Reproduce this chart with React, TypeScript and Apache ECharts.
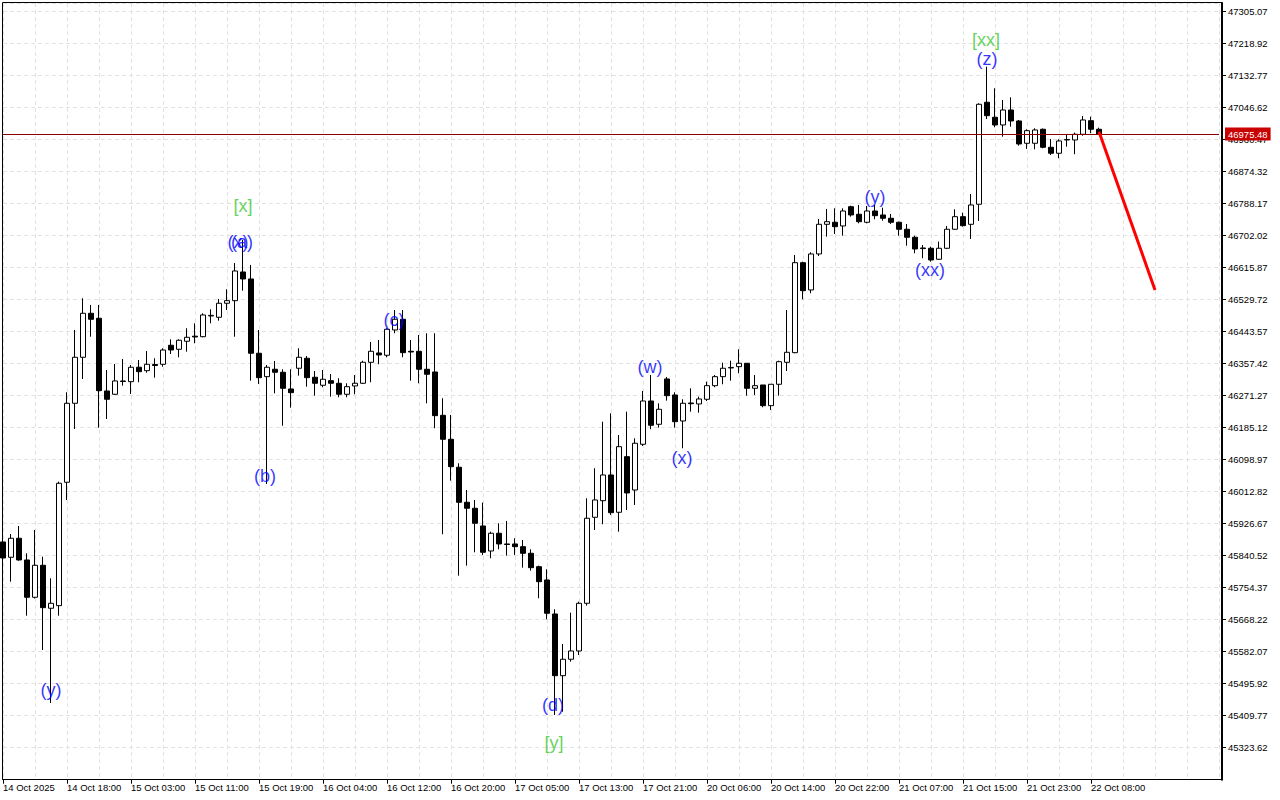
import React, { useEffect, useRef } from "react";
import * as echarts from "echarts";

const timeLabels = [
  "14 Oct 2025", "14 Oct 18:00", "15 Oct 03:00", "15 Oct 11:00", "15 Oct 19:00",
  "16 Oct 04:00", "16 Oct 12:00", "16 Oct 20:00", "17 Oct 05:00", "17 Oct 13:00",
  "17 Oct 21:00", "20 Oct 06:00", "20 Oct 14:00", "20 Oct 22:00", "21 Oct 07:00",
  "21 Oct 15:00", "21 Oct 23:00", "22 Oct 08:00",
];

const opens = [
  45877.5, 45836.3, 45887.4, 45829.0, 45728.6, 45814.7, 45699.0, 45706.0, 46038.2, 46250.8,
  46374.7, 46493.1, 46479.7, 46284.0, 46275.1, 46310.9, 46309.0, 46347.8, 46338.6, 46355.3,
  46355.8, 46407.0, 46396.2, 46417.8, 46431.5, 46430.1, 46485.9, 46482.4, 46520.1, 46527.1,
  46604.3, 46585.5, 46385.5, 46322.5, 46342.4, 46334.3, 46289.3, 46345.1, 46372.0, 46320.9,
  46299.3, 46311.7, 46304.7, 46275.1, 46297.4, 46304.7, 46361.2, 46386.3, 46380.1, 46448.2,
  46477.0, 46390.8, 46390.8, 46342.4, 46335.1, 46218.5, 46153.9, 46078.6, 45984.3, 45968.2,
  45920.5, 45853.2, 45900.9, 45872.1, 45872.1, 45864.8, 45847.0, 45811.0, 45775.2, 45683.6,
  45517.5, 45561.7, 45584.0, 45712.4, 45943.9, 45988.6, 46057.8, 45957.4, 46107.1, 46017.4,
  46140.5, 46257.0, 46194.3, 46316.3, 46273.2, 46203.2, 46251.6, 46249.0, 46261.6, 46298.2,
  46322.5, 46345.9, 46349.4, 46358.5, 46291.2, 46300.1, 46244.4, 46302.0, 46361.2, 46387.1,
  46629.4, 46555.9, 46652.8, 46732.7, 46738.1, 46728.2, 46780.1, 46759.7, 46738.1, 46768.5,
  46757.8, 46748.9, 46738.1, 46719.3, 46697.7, 46668.9, 46668.1, 46638.5, 46668.1, 46719.3,
  46753.2, 46732.7, 46786.6, 47061.2, 47020.8, 47000.1, 47040.4, 47010.8, 46950.8, 46950.8,
  46988.5, 46940.0, 46923.9, 46959.7, 46959.7, 46975.0, 47011.6, 46988.5,
];
const closes = [
  45834.4, 45887.4, 45829.0, 45728.6, 45814.7, 45700.6, 45712.4, 46035.5, 46250.8, 46374.7,
  46493.1, 46477.0, 46284.8, 46261.6, 46310.9, 46309.5, 46347.8, 46335.9, 46355.8, 46352.6,
  46394.3, 46394.3, 46420.5, 46428.5, 46429.3, 46488.6, 46487.5, 46520.1, 46527.1, 46607.0,
  46585.5, 46385.5, 46319.8, 46347.8, 46334.3, 46291.2, 46279.4, 46374.7, 46319.8, 46304.7,
  46315.5, 46304.7, 46275.1, 46295.5, 46304.7, 46361.2, 46390.8, 46380.9, 46450.1, 46477.0,
  46387.1, 46388.9, 46342.4, 46328.9, 46217.5, 46153.9, 46080.2, 45984.3, 45968.2, 45927.8,
  45849.7, 45900.9, 45872.1, 45870.7, 45864.8, 45847.0, 45808.3, 45770.6, 45685.5, 45517.5,
  45561.7, 45584.0, 45712.4, 45941.3, 45990.5, 46057.8, 45956.3, 46134.0, 46009.4, 46143.2,
  46257.0, 46191.6, 46234.7, 46271.3, 46201.3, 46250.8, 46249.7, 46262.4, 46298.2, 46322.5,
  46345.1, 46347.3, 46358.5, 46291.2, 46298.2, 46244.4, 46302.0, 46362.8, 46388.1, 46629.4,
  46554.0, 46652.8, 46732.7, 46739.7, 46726.3, 46768.5, 46757.8, 46739.7, 46768.5, 46755.9,
  46748.9, 46738.1, 46719.3, 46697.7, 46666.2, 46667.3, 46636.6, 46668.1, 46719.3, 46753.2,
  46729.0, 46784.7, 47055.8, 47025.1, 47000.1, 47040.4, 47010.8, 46948.9, 46984.7, 46986.6,
  46940.0, 46923.9, 46957.0, 46961.0, 46975.0, 47013.5, 46988.5, 46975.48,
];
const lows = [
  45823.6, 45770.6, 45827.1, 45679.0, 45725.4, 45586.7, 45444.0, 45679.0, 45990.5, 46181.7,
  46316.3, 46430.1, 46185.2, 46208.6, 46273.2, 46298.2, 46275.9, 46307.4, 46333.2, 46319.8,
  46349.4, 46383.6, 46374.7, 46389.8, 46412.4, 46428.5, 46466.2, 46473.2, 46502.0, 46430.1,
  46554.0, 46311.7, 46302.8, 46033.6, 46277.8, 46190.5, 46239.0, 46325.2, 46295.5, 46271.3,
  46294.0, 46268.6, 46267.0, 46267.0, 46275.1, 46302.8, 46307.4, 46355.8, 46374.7, 46439.3,
  46374.7, 46311.7, 46304.7, 46250.8, 46183.5, 45898.2, 46042.5, 45786.7, 45813.7, 45849.7,
  45842.5, 45833.6, 45857.8, 45840.6, 45842.5, 45808.3, 45800.2, 45725.9, 45669.3, 45411.7,
  45420.6, 45555.2, 45573.2, 45706.0, 45909.8, 45925.1, 45950.1, 45905.2, 45963.6, 45977.1,
  46135.9, 46180.9, 46185.2, 46257.9, 46185.2, 46129.7, 46228.2, 46225.5, 46257.0, 46293.9,
  46302.0, 46311.7, 46331.6, 46271.3, 46273.2, 46240.1, 46232.8, 46271.3, 46337.8, 46385.5,
  46530.8, 46547.0, 46647.4, 46699.4, 46706.6, 46702.0, 46753.2, 46735.4, 46735.4, 46746.2,
  46742.4, 46733.5, 46702.0, 46675.1, 46654.7, 46641.2, 46632.1, 46636.6, 46666.2, 46717.4,
  46726.3, 46693.2, 46741.6, 47016.2, 46993.9, 46968.6, 46995.5, 46944.3, 46935.5, 46934.6,
  46937.3, 46919.3, 46910.4, 46941.6, 46921.2, 46971.2, 46977.7, 46974.0,
];
const highs = [
  45896.3, 45899.0, 45920.5, 45847.0, 45909.8, 45837.9, 45779.7, 46039.8, 46280.5, 46448.2,
  46533.5, 46515.5, 46515.5, 46340.5, 46356.7, 46370.1, 46353.9, 46367.4, 46391.6, 46372.0,
  46398.9, 46423.1, 46423.1, 46452.8, 46466.2, 46493.1, 46503.9, 46531.6, 46557.8, 46628.5,
  46690.5, 46623.2, 46448.2, 46353.9, 46364.7, 46342.4, 46342.4, 46398.9, 46378.2, 46337.8,
  46340.5, 46329.7, 46318.2, 46304.7, 46327.0, 46365.5, 46415.9, 46421.3, 46452.8, 46502.0,
  46502.0, 46421.3, 46434.7, 46439.3, 46439.3, 46264.3, 46219.4, 46089.3, 46017.4, 45990.5,
  45983.3, 45905.2, 45927.8, 45934.0, 45887.4, 45882.8, 45857.8, 45813.7, 45804.0, 45696.3,
  45602.9, 45687.1, 45716.7, 45995.1, 46075.9, 46201.3, 46223.9, 46165.5, 46228.2, 46156.6,
  46284.0, 46327.0, 46250.8, 46321.7, 46280.5, 46261.6, 46291.2, 46268.6, 46309.0, 46327.0,
  46360.1, 46365.5, 46396.2, 46358.5, 46327.0, 46300.1, 46302.0, 46365.5, 46502.0, 46650.1,
  46632.1, 46657.3, 46747.0, 46773.9, 46775.7, 46775.7, 46782.8, 46784.7, 46782.0, 46784.7,
  46777.4, 46760.5, 46739.7, 46733.5, 46702.0, 46677.0, 46672.4, 46685.9, 46728.2, 46773.1,
  46764.0, 46814.3, 47058.5, 47157.0, 47098.9, 47067.4, 47074.6, 47013.5, 46988.5, 46991.2,
  46990.6, 46962.4, 46961.6, 46973.1, 46979.3, 47024.3, 47022.4, 46992.8,
];

const lastPrice = 46975.48;
const forecastBars = [137, 144];
const forecastPrices = [46982, 46556];

const waveTexts = ["(y)", "[x]", "(x)", "(a)", "(b)", "(c)", "(d)", "[y]", "(w)", "(x)", "(y)", "(xx)", "(z)", "[xx]"];
const waveBars = [6, 30, 30, 30, 33, 49, 69, 69, 81, 85, 109, 116, 123, 123];
const wavePrices = [45479.0, 46782.0, 46685.1, 46685.1, 46055.1, 46475.1, 45438.6, 45336.3, 46348.6, 46103.6, 46806.2, 46609.7, 47177.7, 47228.9];
const waveDegree = ["minor", "major", "minor", "minor", "minor", "minor", "minor", "major", "minor", "minor", "minor", "minor", "minor", "major"];

const Y_MIN = 45237.47;
const Y_MAX = 47328.42;
const Y_STEP = 86.15;
const BAR_COUNT = 153;

const FONT = "Liberation Sans";

export default function App() {
  const ref = useRef<HTMLDivElement>(null);

  useEffect(() => {
    if (!ref.current) return;
    const chart = echarts.init(ref.current, undefined, { renderer: "svg" });

    const categories = Array.from({ length: BAR_COUNT }, (_, i) =>
      i % 8 === 0 && timeLabels[i / 8] ? timeLabels[i / 8] : "bar" + i
    );
    const lastLabelIndex = (timeLabels.length - 1) * 8;
    const showAt = (i: number) => i % 8 === 0 && i <= lastLabelIndex;
    const candles = opens.map((o, i) => [o, closes[i], lows[i], highs[i]]);
    const degreeColor: Record<string, string> = { minor: "#0000ff", major: "#3cc832" };
    const shifts: Record<number, number> = { 2: -5, 3: -1, 4: -2, 5: -1, 6: -2, 7: -1, 8: -1, 9: -1, 11: -1, 13: -1 };
    const waves = waveTexts.map((t, i) => ({
      value: [waveBars[i], wavePrices[i]],
      label: {
        show: true,
        formatter: t,
        color: degreeColor[waveDegree[i]],
        offset: [shifts[i] || 0, 0],
      },
    }));

    chart.setOption({
      animation: false,
      backgroundColor: "#ffffff",
      grid: { left: 3, right: 61, top: 3, bottom: 20.3, show: false },
      xAxis: {
        type: "category",
        data: categories,
        boundaryGap: false,
        axisLine: { show: true, lineStyle: { color: "#000", width: 1 } },
        axisTick: {
          show: true,
          interval: (i: number) => showAt(i),
          length: 4,
          lineStyle: { color: "#000" },
        },
        axisLabel: {
          interval: (i: number) => showAt(i),
          align: "left",
          margin: 3,
          fontSize: 9.5,
          fontFamily: FONT,
          color: "#000",
          formatter: (v: string) => (v.startsWith("bar") ? "" : v),
        },
        splitLine: { show: true, interval: 3, lineStyle: { color: "#e2e2e2", type: [4, 3], width: 1 } },
      },
      yAxis: {
        type: "value",
        position: "right",
        min: Y_MIN,
        max: Y_MAX,
        interval: Y_STEP,
        offset: 3,
        axisLine: { show: true, lineStyle: { color: "#000", width: 2 } },
        axisTick: { show: true, length: 4, lineStyle: { color: "#000" } },
        axisLabel: {
          showMinLabel: false,
          showMaxLabel: false,
          margin: 6,
          fontSize: 9.5,
          fontFamily: FONT,
          color: "#000",
          formatter: (v: number) => v.toFixed(2),
        },
        splitLine: { show: true, lineStyle: { color: "#e2e2e2", type: [4, 3], width: 1 } },
      },
      series: [
        {
          type: "candlestick",
          data: candles,
          barWidth: 5,
          clip: true,
          itemStyle: {
            color: "#ffffff",
            color0: "#000000",
            borderColor: "#000000",
            borderColor0: "#000000",
            borderWidth: 1,
          },
          markLine: {
            silent: true,
            symbol: ["none", "none"],
            data: [{ yAxis: lastPrice }],
            lineStyle: { color: "#8b0000", width: 1, type: "solid" },
            label: {
              show: true,
              position: "end",
              distance: 6,
              formatter: lastPrice.toFixed(2),
              backgroundColor: "#c80000",
              color: "#ffffff",
              fontSize: 9.5,
              fontFamily: FONT,
              padding: [2, 3, 1, 3],
            },
          },
          z: 3,
        },
        {
          type: "line",
          data: forecastBars.map((b, i) => [b, forecastPrices[i]]),
          showSymbol: false,
          symbol: "none",
          lineStyle: { color: "#ff0000", width: 3 },
          z: 5,
        },
        {
          type: "scatter",
          symbolSize: 0,
          data: waves,
          label: { show: true, position: "inside", fontSize: 18, fontFamily: FONT },
          z: 6,
        },
      ],
      graphic: [
        {
          type: "rect",
          silent: true,
          z: 100,
          shape: { x: 2.5, y: 2.5, width: 1219.5, height: 777 },
          style: { fill: "none", stroke: "#000", lineWidth: 1 },
        },
      ],
    });

    return () => chart.dispose();
  }, []);

  return (
    <div
      ref={ref}
      style={{ position: "fixed", left: 0, top: 0, width: 1280, height: 800, background: "#fff" }}
    />
  );
}
